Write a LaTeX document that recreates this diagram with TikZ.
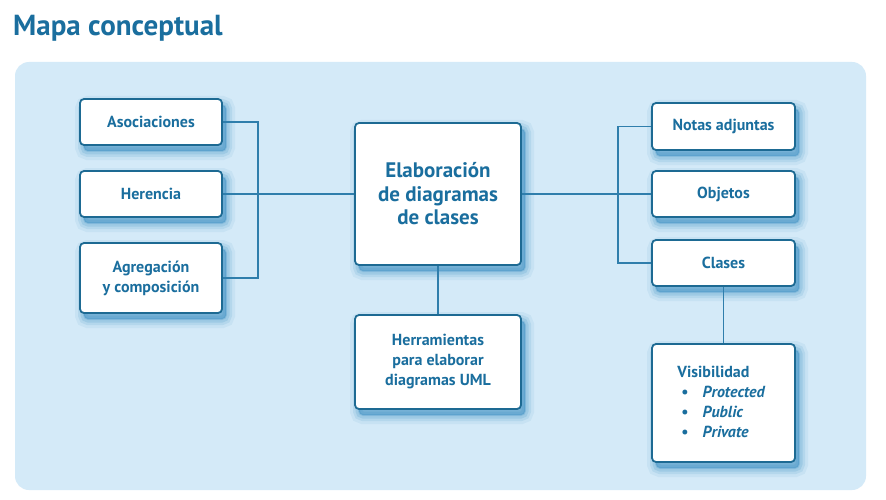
\documentclass[tikz,border=0pt]{standalone}
\usepackage{fontspec}
\setmainfont{PT Sans}
\usetikzlibrary{shadows}
\definecolor{bgc}{HTML}{D4EAF8}
\definecolor{boxc}{HTML}{1D6A93}
\definecolor{txtc}{HTML}{1A6E9E}
\definecolor{linec}{HTML}{2F7EAC}
\definecolor{shc}{HTML}{2F88BE}
\tikzset{
  x=1pt, y=-1pt,
  conn/.style={draw=linec, line width=1.1pt},
  mapbox/.style={draw=boxc, line width=1.8pt, fill=white, rounded corners=4pt,
    text=txtc, font=\bfseries\fontsize{16}{20}\selectfont, align=center,
    inner sep=0pt,
    general shadow={shadow xshift=4pt, shadow yshift=-6pt, draw=shc, fill=shc, line width=18pt, opacity=0.08},
    general shadow={shadow xshift=4pt, shadow yshift=-6pt, draw=shc, fill=shc, line width=12pt, opacity=0.12},
    general shadow={shadow xshift=4pt, shadow yshift=-6pt, draw=shc, fill=shc, line width=7pt, opacity=0.16},
    general shadow={shadow xshift=4pt, shadow yshift=-6pt, draw=shc, fill=shc, line width=2pt, opacity=0.2}},
}
\begin{document}
\begin{tikzpicture}
\useasboundingbox (0,0) rectangle (886,500);
\fill[white] (0,0) rectangle (886,500);
\node[anchor=base west, text=txtc, font=\bfseries\fontsize{29}{32}\selectfont, inner sep=0pt] (title) at (13,36) {Mapa conceptual};
\fill[bgc, rounded corners=14pt] (15,62) rectangle (866,490);

\node[mapbox, minimum width=142pt, minimum height=46pt] (aso) at (151,122) {Asociaciones};
\node[mapbox, minimum width=142pt, minimum height=46pt] (her) at (151,194) {Herencia};
\node[mapbox, minimum width=142pt, minimum height=70pt] (agr) at (151,278) {Agregación\\y composición};
\node[mapbox, minimum width=166pt, minimum height=142pt, font=\bfseries\fontsize{21}{23.5}\selectfont] (cen) at (438,194) {Elaboración\\de diagramas\\de clases};
\node[mapbox, minimum width=166pt, minimum height=94pt] (hrr) at (438,362) {Herramientas\\para elaborar\\diagramas UML};
\node[mapbox, minimum width=143pt, minimum height=47pt] (not) at (723.5,126.5) {Notas adjuntas};
\node[mapbox, minimum width=143pt, minimum height=46pt] (obj) at (723.5,194) {Objetos};
\node[mapbox, minimum width=143pt, minimum height=46pt] (cla) at (723.5,263) {Clases};
\node[mapbox, minimum width=143pt, minimum height=118pt] (vis) at (723.5,403) {%
  \begin{tabular}{@{}l@{\hspace{14pt}}l@{}}
  \multicolumn{2}{@{}l@{}}{\hspace{-4pt}Visibilidad}\\
  \textbullet & \textit{Protected}\\
  \textbullet & \textit{Public}\\
  \textbullet & \textit{Private}
  \end{tabular}};

\coordinate (lb) at (258,194);
\coordinate (rb) at (618,194);
\draw[conn] (aso.east) -| (lb) |- (agr.east);
\draw[conn] (her.east) -- (cen.west);
\draw[conn] (cen.east) -- (obj.west);
\draw[conn] (not.west) -| (rb) |- (cla.west);
\draw[conn] (cen.south) -- (hrr.north);
\draw[conn] (cla.south) -- (vis.north);
\end{tikzpicture}
\end{document}
